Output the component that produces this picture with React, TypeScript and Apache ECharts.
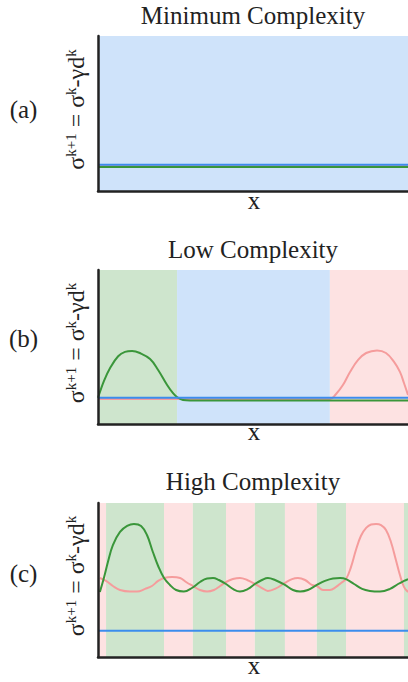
import React, { useEffect, useRef } from 'react';
import * as echarts from 'echarts';

// ---------- data ----------
const titles = ['Minimum Complexity', 'Low Complexity', 'High Complexity'];
const panelLabels = ['(a)', '(b)', '(c)'];
const xName = 'x';

// panel (a)
const aBlue: number[][] = [[0, 0.17], [100, 0.17]];
const aPink: number[][] = [[0, 0.162], [100, 0.162]];
const aGreen: number[][] = [[0, 0.155], [100, 0.155]];
const aRegions: [number, number, string][] = [[0, 100, 'blue']];

// panel (b)
const bBlue: number[][] = [[0, 0.171], [100, 0.171]];
const bGreen: number[][] = [
  [0, 0.17], [1.9, 0.279], [3.9, 0.364], [6.5, 0.44], [8.7, 0.468], [11, 0.474],
  [13.5, 0.461], [16.8, 0.422], [19.4, 0.351], [22.3, 0.253], [24.2, 0.2],
  [25.5, 0.175], [27.4, 0.156], [29.7, 0.153], [100, 0.153],
];
const bPink: number[][] = [
  [0, 0.162], [74.8, 0.162], [76.8, 0.195], [79.0, 0.253], [81.3, 0.338],
  [83.9, 0.416], [86.5, 0.461], [90.0, 0.478], [92.9, 0.461], [95.5, 0.403],
  [97.4, 0.338], [98.7, 0.266], [100, 0.188],
];
const bRegions: [number, number, string][] = [
  [0, 25.5, 'green'], [25.5, 74.8, 'blue'], [74.8, 100, 'pink'],
];

// panel (c)
const cBlue: number[][] = [[0, 0.17], [100, 0.17]];
const cGreen: number[][] = [
  [0.6, 0.422], [1.9, 0.513], [3.2, 0.617], [4.8, 0.727], [7.1, 0.812], [9.4, 0.851],
  [11.6, 0.864], [13.9, 0.851], [15.8, 0.792], [17.7, 0.682], [19.4, 0.591],
  [21.3, 0.513], [23.2, 0.468], [25.2, 0.435], [27.7, 0.425], [30.3, 0.448],
  [32.9, 0.487], [35.2, 0.51], [37.1, 0.513], [39.0, 0.5], [41.3, 0.474],
  [43.5, 0.442], [45.8, 0.425], [48.4, 0.442], [50.6, 0.474], [52.9, 0.5],
  [54.8, 0.513], [57.1, 0.5], [60.3, 0.468], [62.9, 0.435], [65.2, 0.425],
  [67.7, 0.435], [70.6, 0.468], [73.2, 0.494], [75.8, 0.51], [78.1, 0.513],
  [80.0, 0.506], [82.6, 0.474], [85.2, 0.442], [87.7, 0.429], [91.0, 0.425],
  [94.2, 0.442], [96.8, 0.474], [98.7, 0.494], [100, 0.506],
];
const cPink: number[][] = [
  [0.6, 0.513], [2.6, 0.494], [4.8, 0.461], [7.1, 0.435], [10.3, 0.425],
  [12.6, 0.425], [15.2, 0.442], [17.4, 0.461], [19.4, 0.494], [21.3, 0.513],
  [23.9, 0.519], [26.5, 0.513], [28.4, 0.487], [30.6, 0.461], [32.9, 0.435],
  [35.2, 0.425], [37.4, 0.435], [39.4, 0.461], [41.3, 0.487], [43.5, 0.506],
  [45.8, 0.513], [48.1, 0.5], [50.6, 0.474], [52.9, 0.448], [54.8, 0.429],
  [57.1, 0.442], [60.3, 0.481], [62.6, 0.506], [64.5, 0.513], [66.8, 0.5],
  [69.0, 0.468], [70.6, 0.461], [72.6, 0.435], [74.8, 0.435], [76.8, 0.455],
  [78.4, 0.481], [80.0, 0.506], [81.6, 0.584], [83.2, 0.695], [84.8, 0.786],
  [86.5, 0.838], [88.1, 0.86], [89.7, 0.864], [91.3, 0.857], [92.9, 0.825],
  [94.5, 0.747], [96.1, 0.63], [97.4, 0.532], [98.7, 0.455], [100, 0.422],
];
const cRegions: [number, number, string][] = [
  [0, 2.6, 'pink'], [2.6, 21.3, 'green'], [21.3, 30.6, 'pink'], [30.6, 41.3, 'green'],
  [41.3, 50.6, 'pink'], [50.6, 60.3, 'green'], [60.3, 70.6, 'pink'],
  [70.6, 80.0, 'green'], [80.0, 98.7, 'pink'], [98.7, 100, 'green'],
];

// ---------- styling ----------
const SERIF = "'Liberation Serif', serif";
const regionColor: Record<string, string> = {
  blue: '#cfe3fa',
  green: '#cee5cd',
  pink: '#fde2e2',
};
const lineColor = { blue: '#3b8ded', green: '#3a963a', pink: '#f59c9c' };

const gridTops = [36, 270, 503];
const gridHeights = [155, 154, 154];
const titleYs = [15.6, 249, 481];
const panelLabelYs = [109.5, 338, 573];
const xNameYs = [200, 431.5, 665.5];

const yName = '{b|σ}{s|k+1}{b| = σ}{s|k}{b|-γd}{s|k}';

export default function App() {
  const ref = useRef<HTMLDivElement>(null);
  useEffect(() => {
    if (!ref.current) return;
    const chart = echarts.init(ref.current, null, { renderer: 'svg' });
    const panels = [
      { blue: aBlue, pink: aPink, green: aGreen, regions: aRegions },
      { blue: bBlue, pink: bPink, green: bGreen, regions: bRegions },
      { blue: cBlue, pink: cPink, green: cGreen, regions: cRegions },
    ];
    const grid = panels.map((_, i) => ({
      left: 98, right: 0, top: gridTops[i], height: gridHeights[i],
    }));
    const axisLine = { show: true, onZero: false, lineStyle: { color: '#222', width: 2.5 } };
    const xAxis = panels.map((_, i) => ({
      type: 'value', gridIndex: i, min: 0, max: 100, z: 10,
      axisLine, axisTick: { show: false }, axisLabel: { show: false }, splitLine: { show: false },
    }));
    const yAxis = panels.map((_, i) => ({
      type: 'value', gridIndex: i, min: 0, max: 1, z: 10,
      axisLine, axisTick: { show: false }, axisLabel: { show: false }, splitLine: { show: false },
      name: yName, nameLocation: 'middle', nameRotate: 90, nameGap: 9,
      nameTextStyle: {
        fontFamily: SERIF, color: '#222', padding: [0, 0, 0, 8],
        rich: {
          b: { fontFamily: SERIF, fontSize: 24, lineHeight: 26, color: '#222', verticalAlign: 'middle' },
          s: { fontFamily: SERIF, fontSize: 15, lineHeight: 12, color: '#222', verticalAlign: 'top' },
        },
      },
    }));
    const series: any[] = [];
    panels.forEach((p, i) => {
      series.push({
        type: 'line', xAxisIndex: i, yAxisIndex: i, data: [], z: 1, silent: true,
        markArea: {
          silent: true,
          data: p.regions.map(([a, b, k]) => [
            { xAxis: a, itemStyle: { color: regionColor[k], opacity: 1 } },
            { xAxis: b },
          ]),
        },
      });
      const mk = (data: number[][], color: string) => ({
        type: 'line', xAxisIndex: i, yAxisIndex: i, data, smooth: 0.4, showSymbol: false,
        symbol: 'none', z: 3, lineStyle: { color, width: 2 }, silent: true,
      });
      series.push(mk(p.pink, lineColor.pink));
      series.push(mk(p.green, lineColor.green));
      series.push(mk(p.blue, lineColor.blue));
    });
    const graphic: any[] = [];
    titles.forEach((t, i) => {
      graphic.push({
        type: 'text', x: 253, y: titleYs[i],
        style: { text: t, fontFamily: SERIF, fontSize: 25, fill: '#222', align: 'center', verticalAlign: 'middle' },
      });
      graphic.push({
        type: 'text', x: 23.5, y: panelLabelYs[i],
        style: { text: panelLabels[i], fontFamily: SERIF, fontSize: 25, fill: '#222', align: 'center', verticalAlign: 'middle' },
      });
      graphic.push({
        type: 'text', x: 254, y: xNameYs[i],
        style: { text: xName, fontFamily: SERIF, fontSize: 25, fill: '#222', align: 'center', verticalAlign: 'middle' },
      });
    });
    chart.setOption({
      animation: false,
      backgroundColor: '#fff',
      grid, xAxis, yAxis, series, graphic,
    });
    return () => chart.dispose();
  }, []);
  return (
    <div
      ref={ref}
      style={{ position: 'fixed', left: 0, top: 0, width: 408, height: 682 }}
    />
  );
}
